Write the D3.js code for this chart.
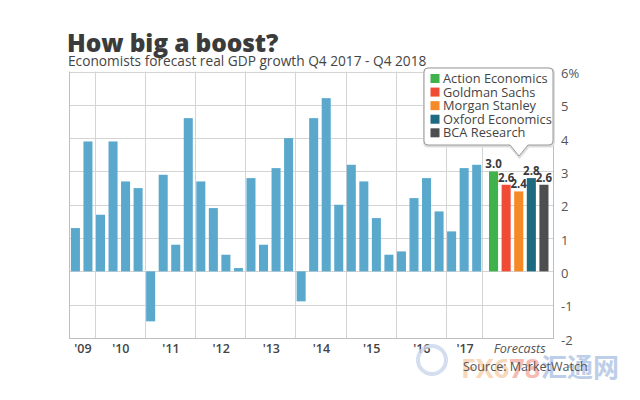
<!DOCTYPE html>
<html>
<head>
<meta charset="utf-8">
<script src="https://cdn.jsdelivr.net/npm/d3@7"></script>
<style>
  html, body { margin: 0; padding: 0; background: #fff; }
  svg { display: block; font-family: "Open Sans", "Lato", sans-serif; }
</style>
</head>
<body>
<svg id="chart" width="640" height="400"></svg>
<script>
// ---- Data ----
const quarters = [
  "Q3 2009","Q4 2009",
  "Q1 2010","Q2 2010","Q3 2010","Q4 2010",
  "Q1 2011","Q2 2011","Q3 2011","Q4 2011",
  "Q1 2012","Q2 2012","Q3 2012","Q4 2012",
  "Q1 2013","Q2 2013","Q3 2013","Q4 2013",
  "Q1 2014","Q2 2014","Q3 2014","Q4 2014",
  "Q1 2015","Q2 2015","Q3 2015","Q4 2015",
  "Q1 2016","Q2 2016","Q3 2016","Q4 2016",
  "Q1 2017","Q2 2017","Q3 2017"
];
const gdpGrowth = [
  1.3, 3.9,
  1.7, 3.9, 2.7, 2.5,
  -1.5, 2.9, 0.8, 4.6,
  2.7, 1.9, 0.5, 0.1,
  2.8, 0.8, 3.1, 4.0,
  -0.9, 4.6, 5.2, 2.0,
  3.2, 2.7, 1.6, 0.5,
  0.6, 2.2, 2.8, 1.8,
  1.2, 3.1, 3.2
];
const yearLabels = ["'09","'10","'11","'12","'13","'14","'15","'16","'17"];
const forecasters = ["Action Economics","Goldman Sachs","Morgan Stanley","Oxford Economics","BCA Research"];
const forecastValues = [3.0, 2.6, 2.4, 2.8, 2.6];
const forecastColors = ["#3fb24b","#f04b35","#f58a26","#1e6a80","#4d4e50"];
const yTicks = [-2,-1,0,1,2,3,4,5,6];

// ---- Layout ----
const svg = d3.select("#chart");
const plotL = 69, plotR = 553, plotT = 71.5, plotB = 338;
const fcStart = 482.3;
const gridColor = "#d4d4d4";
const barColor = "#5aa9cd";

const y = d3.scaleLinear().domain([-2, 6]).range([plotB, plotT]);

const step = 12.54, pad = 0.28;
const x = d3.scaleBand()
  .domain(d3.range(quarters.length))
  .range([70.9, 70.9 + step * quarters.length - step * pad])
  .paddingInner(pad).paddingOuter(0);

const fStep = 12.6;
const xf = d3.scaleBand()
  .domain(forecasters)
  .range([489, 489 + fStep * forecasters.length - fStep * pad])
  .paddingInner(pad).paddingOuter(0);

// ---- Title ----
svg.append("text").attr("x", 67).attr("y", 52)
  .attr("font-size", 24.5).attr("font-weight", 800).attr("fill", "#3b3b3b")
  .attr("letter-spacing", -0.1)
  .text("How big a boost?");
svg.append("text").attr("x", 68).attr("y", 66)
  .attr("font-size", 13.7).attr("fill", "#444")
  .text("Economists forecast real GDP growth Q4 2017 - Q4 2018");

// ---- Grid ----
const g = svg.append("g");
g.selectAll("line.h").data(yTicks.filter(d => d > -2)).join("line")
  .attr("x1", plotL).attr("x2", plotR)
  .attr("y1", d => Math.round(y(d)) + 0.5).attr("y2", d => Math.round(y(d)) + 0.5)
  .attr("stroke", gridColor).attr("stroke-width", 1);

// vertical year separators: before each Q1
const q1Idx = quarters.map((q, i) => q.startsWith("Q1") ? i : -1).filter(i => i >= 0);
const sepX = q1Idx.map(i => x(i) - 1.2).concat([fcStart]);
g.selectAll("line.v").data(sepX).join("line")
  .attr("x1", d => Math.round(d) + 0.5).attr("x2", d => Math.round(d) + 0.5)
  .attr("y1", plotT).attr("y2", plotB)
  .attr("stroke", gridColor).attr("stroke-width", 1);

// frame
g.append("line").attr("x1", plotL + 0.5).attr("x2", plotL + 0.5).attr("y1", plotT).attr("y2", plotB)
  .attr("stroke", "#bdbdbd");
g.append("line").attr("x1", plotR + 0.5).attr("x2", plotR + 0.5).attr("y1", plotT).attr("y2", plotB)
  .attr("stroke", "#bdbdbd");
g.append("line").attr("x1", plotL).attr("x2", plotR + 1).attr("y1", Math.round(plotB) + 0.5).attr("y2", Math.round(plotB) + 0.5)
  .attr("stroke", "#bdbdbd");

// ---- Bars ----
svg.append("g").selectAll("rect").data(gdpGrowth).join("rect")
  .attr("x", (d, i) => x(i))
  .attr("width", x.bandwidth())
  .attr("y", d => y(Math.max(0, d)))
  .attr("height", d => Math.abs(y(d) - y(0)))
  .attr("fill", barColor);

svg.append("g").selectAll("rect").data(forecastValues).join("rect")
  .attr("x", (d, i) => xf(forecasters[i]))
  .attr("width", xf.bandwidth())
  .attr("y", d => y(d))
  .attr("height", d => y(0) - y(d))
  .attr("fill", (d, i) => forecastColors[i]);

svg.append("g").selectAll("text").data(forecastValues).join("text")
  .attr("x", (d, i) => xf(forecasters[i]) + xf.bandwidth() / 2)
  .attr("y", d => y(d) - 3)
  .attr("text-anchor", "middle")
  .attr("font-size", 11.5).attr("font-weight", 700).attr("fill", "#3a3a3a")
  .text(d => d.toFixed(1));

// ---- Right axis ----
const yAxis = d3.axisRight(y).tickValues(yTicks).tickSize(0).tickPadding(0)
  .tickFormat(d => d === 6 ? "6%" : String(d));
const ax = svg.append("g").attr("transform", `translate(${plotR + 8},2)`).call(yAxis);
ax.select(".domain").remove();
ax.selectAll("text").attr("font-size", 13).attr("fill", "#555")
  .attr("font-family", "Open Sans, sans-serif");

// ---- Year labels ----
const bounds = [plotL].concat(sepX);
svg.append("g").selectAll("text").data(yearLabels).join("text")
  .attr("x", (d, i) => (bounds[i] + bounds[i + 1]) / 2 + 1)
  .attr("y", 353)
  .attr("text-anchor", "middle")
  .attr("font-size", 12.5).attr("font-weight", 600).attr("fill", "#444")
  .text(d => d);
svg.append("text").attr("x", (fcStart + plotR) / 2 + 2).attr("y", 353)
  .attr("text-anchor", "middle").attr("font-size", 12.5).attr("font-style", "italic")
  .attr("fill", "#555").text("Forecasts");

// ---- Legend callout ----
const lg = svg.append("g");
const bx0 = 424, bx1 = 553, by0 = 68, by1 = 145, r = 4;
const tipX = 519, tipY = 156, tw = 9;
const pathD = `M${bx0 + r},${by0} H${bx1 - r} Q${bx1},${by0} ${bx1},${by0 + r} V${by1 - r} Q${bx1},${by1} ${bx1 - r},${by1}
  H${tipX + tw} L${tipX},${tipY} L${tipX - tw},${by1} H${bx0 + r} Q${bx0},${by1} ${bx0},${by1 - r} V${by0 + r} Q${bx0},${by0} ${bx0 + r},${by0} Z`;
lg.append("path").attr("d", pathD).attr("fill", "none").attr("stroke", "#ddd").attr("stroke-width", 3)
  .attr("transform", "translate(0.5,1)");
lg.append("path").attr("d", pathD).attr("fill", "#fff").attr("stroke", "#9a9a9a").attr("stroke-width", 1);
const rowY = d3.scalePoint().domain(forecasters).range([78.5, 132.8]);
lg.selectAll("rect.k").data(forecasters).join("rect")
  .attr("x", 430.5).attr("y", d => rowY(d) - 4.5).attr("width", 9).attr("height", 9)
  .attr("fill", (d, i) => forecastColors[i]);
lg.selectAll("text.k").data(forecasters).join("text")
  .attr("x", 443).attr("y", d => rowY(d) + 4.6)
  .attr("font-size", 12.8).attr("fill", "#444")
  .text(d => d);

// ---- Source & watermark ----
svg.append("circle").attr("cx", 432).attr("cy", 360).attr("r", 14)
  .attr("fill", "none").attr("stroke", "#c9d6ea").attr("stroke-width", 4).attr("opacity", 0.8);
const wm = svg.append("text").attr("x", 461).attr("y", 378).attr("font-size", 27).attr("font-weight", 700)
  .attr("opacity", 0.85);
wm.append("tspan").attr("fill", "#f6d2ae").text("FX6");
wm.append("tspan").attr("fill", "#f5b0a6").text("78");
svg.append("text").attr("x", 541).attr("y", 377).attr("font-size", 26).attr("font-weight", 700)
  .attr("font-family", "Noto Sans CJK SC, sans-serif")
  .attr("fill", "#b3c6e4").attr("opacity", 0.85).text("汇通网");
svg.append("text").attr("x", 463).attr("y", 371)
  .attr("font-size", 12.5).attr("fill", "#555").text("Source: MarketWatch");
</script>
</body>
</html>
